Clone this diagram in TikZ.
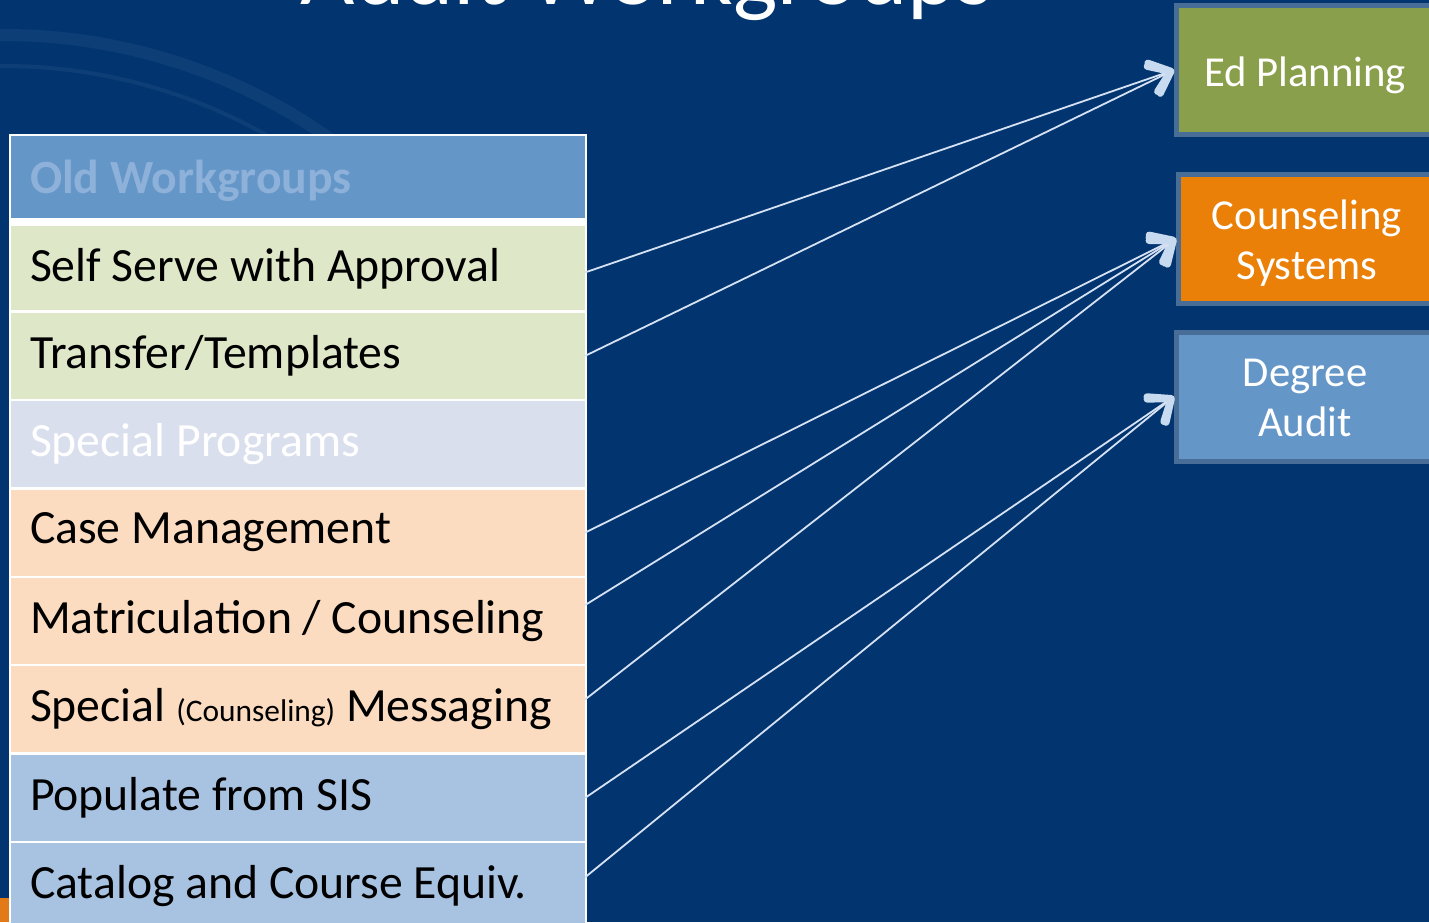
\documentclass[tikz,border=0pt]{standalone}
\usepackage{fontspec}
\setmainfont{Carlito}
\usetikzlibrary{arrows.meta,positioning}

\definecolor{slide}{RGB}{2,53,111}
\definecolor{sealband}{RGB}{14,62,118}
\definecolor{footer}{RGB}{226,122,24}
\definecolor{headblue}{RGB}{100,150,200}
\definecolor{headtext}{RGB}{142,177,217}
\definecolor{greenrow}{RGB}{223,231,201}
\definecolor{lilacrow}{RGB}{217,223,237}
\definecolor{peachrow}{RGB}{252,220,192}
\definecolor{bluerow}{RGB}{168,194,225}
\definecolor{goalrim}{RGB}{72,110,152}
\definecolor{goalgreen}{RGB}{138,159,75}
\definecolor{goalorange}{RGB}{235,128,8}
\definecolor{goalblue}{RGB}{100,150,200}
\definecolor{linkwhite}{RGB}{214,226,243}
\definecolor{tipblue}{RGB}{200,218,240}

\tikzset{
  oldrow/.style={fill=#1, text=black, minimum width=574pt, text width=536pt, inner xsep=19pt, inner ysep=0pt, minimum height=86pt, align=flush left, font=\fontsize{47.7}{56}\selectfont},
  newbox/.style={fill=#1, draw=goalrim, line width=5pt, minimum width=257pt, minimum height=129pt, text depth=0pt, text=white, align=center, font=\fontsize{42.7}{50}\selectfont},
  link/.style={draw=linkwhite, line width=1.8pt, -{Straight Barb[length=19pt,width=30pt,line width=7pt,round,color=tipblue]}}
}

\begin{document}
\begin{tikzpicture}[x=1pt,y=-1pt]
\useasboundingbox (0,0) rectangle (1429,922);
\clip (0,0) rectangle (1429,922);
\fill[slide] (0,0) rectangle (1429,922);
% faint seal behind the table
\draw[sealband, line width=12pt] (3,602) circle[radius=567pt];
\draw[sealband, line width=4pt] (3,602) circle[radius=536pt];
\fill[footer] (0,898) rectangle (9,922);
\node[text=white, font=\fontsize{94}{100}\selectfont, anchor=base] (title) at (647,4) {Audit Workgroups};

% old workgroups table
\fill[white] (9,134) rectangle (587,930);
\node[oldrow=headblue, minimum height=82pt, text depth=0pt, text=headtext, font=\fontsize{47.7}{56}\selectfont\bfseries] (old) at (298,177) {Old Workgroups};
\node[oldrow=greenrow, minimum height=84pt, below=8pt of old] (self) {Self Serve with Approval};
\node[oldrow=greenrow, below=2pt of self] (transfer) {Transfer/Templates};
\node[oldrow=lilacrow, text=white, below=2pt of transfer] (special) {Special Programs};
\node[oldrow=peachrow, below=2pt of special] (casemgmt) {Case Management};
\node[oldrow=peachrow, below=2pt of casemgmt] (matric) {Matriculation / Counseling};
\node[oldrow=peachrow, below=2pt of matric] (messaging) {Special {\fontsize{31.4}{36}\selectfont (Counseling)} Messaging};
\node[oldrow=bluerow, below=2pt of messaging] (populate) {Populate from SIS};
\node[oldrow=bluerow, below=2pt of populate] (catalog) {Catalog and Course Equiv.};

% new workgroups
\node[newbox=goalgreen] (plan) at (1305,70) {\raisebox{-4pt}{Ed Planning}};
\node[newbox=goalorange] (couns) at (1307,238.5) {\raisebox{-3pt}{Counseling}\\\raisebox{-3pt}{Systems}};
\node[newbox=goalblue] (audit) at (1305,396.5) {\raisebox{-2pt}{Degree}\\\raisebox{-2pt}{Audit}};

% connectors
\draw[link] ([yshift=-4pt]self.east) -- (plan.west);
\draw[link] (transfer.east) -- (plan.west);
\draw[link] (casemgmt.east) -- (couns.west);
\draw[link] ([yshift=16pt]matric.east) -- (couns.west);
\draw[link] ([yshift=10pt]messaging.east) -- (couns.west);
\draw[link] (populate.east) -- (audit.west);
\draw[link] ([yshift=9pt]catalog.east) -- (audit.west);
\end{tikzpicture}
\end{document}
